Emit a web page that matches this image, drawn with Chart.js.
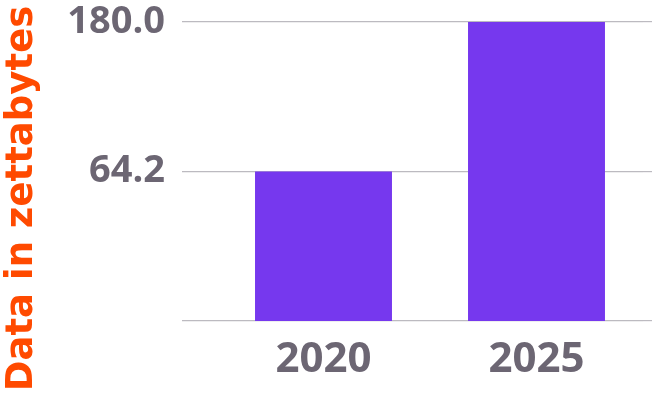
<!DOCTYPE html>
<html><head><meta charset="utf-8">
<script src="https://cdn.jsdelivr.net/npm/chart.js@4"></script>
<style>html,body{margin:0;padding:0;background:#fff}#w{width:653px;height:397px}</style>
</head><body><div id="w"><canvas id="c"></canvas></div>
<script>
const categories = ['2020', '2025'];
const dataValues = [64.2, 180.0];
const yTickValues = [64.2, 180.0];
const yAxisTitle = 'Data in zettabytes';

const axisMax = yTickValues[yTickValues.length - 1];
const axisMin = yTickValues[0] * yTickValues[0] / axisMax;
const FONT = '"Open Sans"';
const gridColor = '#bcbac0';
const TITLE_W = 44;

function setTicks(scale) {
  scale.ticks = [axisMin].concat(yTickValues).map(v => ({ value: v }));
}

new Chart(document.getElementById('c'), {
  type: 'bar',
  data: {
    labels: categories,
    datasets: [{
      data: dataValues,
      backgroundColor: '#7638EE',
      categoryPercentage: 1,
      barPercentage: 0.643
    }]
  },
  options: {
    responsive: true,
    maintainAspectRatio: false,
    animation: false,
    layout: { padding: { left: 0, right: 1, top: 0, bottom: 0 } },
    plugins: {
      legend: { display: false },
      tooltip: { enabled: false },
      title: {
        display: true,
        position: 'left',
        text: yAxisTitle,
        color: '#FF4A00',
        font: { family: '"DejaVu Sans"', size: 37, weight: 'bold', lineHeight: TITLE_W + 'px' },
        padding: 0
      }
    },
    scales: {
      x: {
        offset: true,
        grid: { display: false },
        border: { display: false },
        ticks: { color: '#6C6673', font: { family: FONT, size: 42, weight: 'bold', lineHeight: 1.2 }, padding: 6 },
        afterFit: s => { s.height = 76; }
      },
      y: {
        type: 'logarithmic',
        min: axisMin,
        max: axisMax,
        afterBuildTicks: setTicks,
        afterFit: s => { s.width = 217 - TITLE_W; s.paddingTop = 22; s.paddingBottom = 0; },
        border: { display: false },
        grid: { color: gridColor, lineWidth: 1.2, tickLength: 35, tickColor: gridColor },
        ticks: {
          color: '#6C6673',
          font: { family: FONT, size: 38, weight: 'bold', lineHeight: 1.2 },
          padding: 17,
          callback: v => (v === axisMin ? '' : Number(v).toFixed(1))
        }
      },
      y2: {
        type: 'logarithmic',
        position: 'right',
        min: axisMin,
        max: axisMax,
        afterBuildTicks: setTicks,
        afterFit: s => { s.paddingTop = 22; s.paddingBottom = 0; },
        border: { display: false },
        grid: { drawOnChartArea: false, tickLength: 9, tickColor: gridColor, lineWidth: 1.2 },
        ticks: { display: false }
      }
    }
  }
});
</script>
</body></html>
